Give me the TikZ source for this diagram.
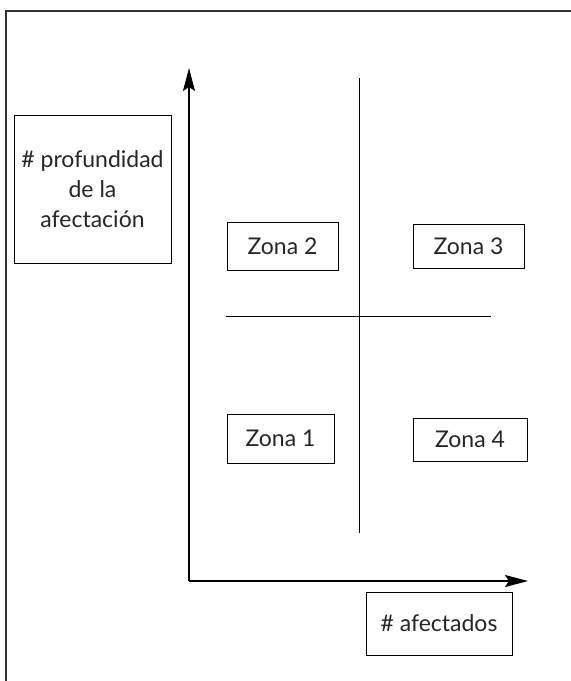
\documentclass[tikz,border=0pt]{standalone}
\usepackage{fontspec}
\setmainfont{Lato}
\usepackage{tikz}
\usetikzlibrary{arrows.meta, positioning}

\tikzset{
  zonebox/.style={draw, line width=1pt, inner sep=0pt, font=\fontsize{23}{30}\selectfont, text=black!85},
  axis/.style={line width=1.1pt, -{Stealth[length=23pt,width=12pt,inset=4pt]}}
}

\begin{document}
\begin{tikzpicture}[x=1pt, y=-1pt]
\useasboundingbox (0,0) rectangle (571,681);
\draw[line width=1.1pt, black!80] (571,11) -- (6,11) -- (6,681);
% axes
\coordinate (o) at (189,581);
\coordinate (ytop) at (189,68);
\coordinate (xend) at (528,581);
\draw[axis] (o) -- (ytop);
\draw[axis] (o) -- (xend);
% cross
\coordinate (vtop) at (359,78);
\coordinate (vbot) at (359,533);
\coordinate (hleft) at (226,316);
\coordinate (hright) at (491,316);
\draw[line width=1pt] (vtop) -- (vbot);
\draw[line width=1pt] (hleft) -- (hright);
% labels
\node[zonebox, minimum width=157pt, minimum height=148pt, align=center] (prof) at (92.5,189) {\# profundidad\\de la\\afectación};
\node[zonebox, minimum width=146pt, minimum height=63pt] (afect) at (439,623.5) {\# afectados};
% zones
\node[zonebox, minimum width=111pt, minimum height=48pt] (z2) at (282.5,246) {Zona 2};
\node[zonebox, minimum width=111pt, minimum height=44pt] (z3) at (468.5,246) {Zona 3};
\node[zonebox, minimum width=107pt, minimum height=49pt] (z1) at (280.5,438.5) {Zona 1};
\node[zonebox, minimum width=114pt, minimum height=43pt] (z4) at (470,439.5) {Zona 4};
\end{tikzpicture}
\end{document}
